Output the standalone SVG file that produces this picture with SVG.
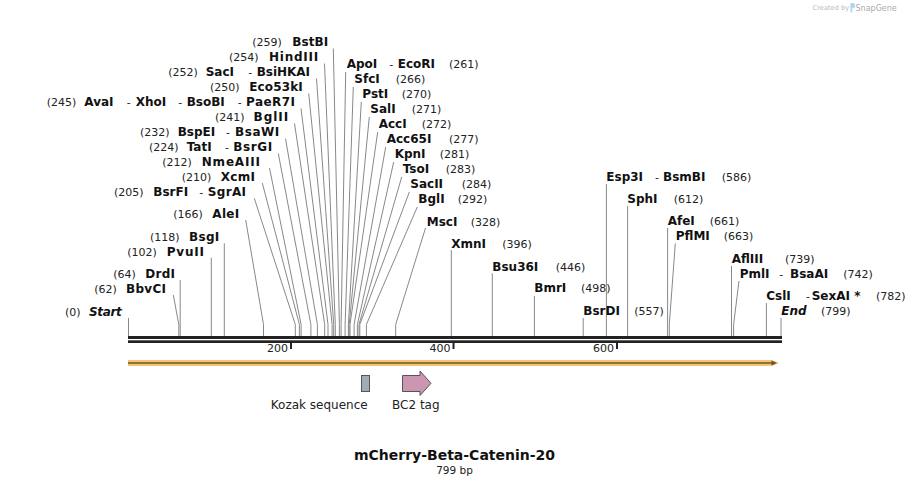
<svg xmlns="http://www.w3.org/2000/svg" width="910" height="486" viewBox="0 0 910 486">
<style>
text{font-family:"DejaVu Sans",Verdana,sans-serif;fill:#111}
.p{font-size:11px;fill:#222}
.n{font-size:12px;font-weight:bold}
.i{font-size:12px;font-weight:bold;font-style:italic}
.d{font-size:11px;fill:#222}
.l{stroke:#888;stroke-width:1;fill:none}
.tk{font-size:11px;fill:#222}
.f{font-size:12px;fill:#222}
</style>
<rect width="910" height="486" fill="#fff"/>
<g id="watermark">
<text x="812.5" y="10" style="font-size:6.7px;fill:#bbb">Created by</text>
<path d="M850.5,3 h2 a2.6,2.6 0 0 1 0,5.2 h-0.3 v4.3 h-1.7 z" fill="#a8d8f2"/>
<text x="855.5" y="10.5" style="font-size:8px;fill:#aaa">SnapGene</text>
</g>
<g id="connectors">
<polyline class="l" points="333.3,48.5 339.4,324.5 339.4,336"/>
<polyline class="l" points="324.5,63.5 335.3,324.5 335.3,336"/>
<polyline class="l" points="316.5,78.5 333.7,324.5 333.7,336"/>
<polyline class="l" points="308.7,93.5 332.1,324.5 332.1,336"/>
<polyline class="l" points="301,108.5 328,324.5 328,336"/>
<polyline class="l" points="294.5,123.5 324.7,324.5 324.7,336"/>
<polyline class="l" points="285.5,138.5 317.4,324.5 317.4,336"/>
<polyline class="l" points="278.3,153.5 310.9,324.5 310.9,336"/>
<polyline class="l" points="269.5,168 301.1,324.5 301.1,336"/>
<polyline class="l" points="262.3,183 299.4,324.5 299.4,336"/>
<polyline class="l" points="254.3,198.3 295.3,324.5 295.3,336"/>
<polyline class="l" points="245.7,220 263.5,324.5 263.5,336"/>
<polyline class="l" points="224.3,243.3 224.3,336"/>
<polyline class="l" points="211.3,257.7 211.3,336"/>
<polyline class="l" points="180.2,280 180.2,336"/>
<polyline class="l" points="173.3,295 178.8,324.5 178.8,336"/>
<polyline class="l" points="128.5,318 128.5,336"/>
<polyline class="l" points="345.7,72 341.1,324.5 341.1,336"/>
<polyline class="l" points="353.3,87 345.1,324.5 345.1,336"/>
<polyline class="l" points="361.3,102 348.4,324.5 348.4,336"/>
<polyline class="l" points="369.3,117 349.2,324.5 349.2,336"/>
<polyline class="l" points="377.7,132 350,324.5 350,336"/>
<polyline class="l" points="385.7,147 354.1,324.5 354.1,336"/>
<polyline class="l" points="393.7,162 357.4,324.5 357.4,336"/>
<polyline class="l" points="401.7,177 359,324.5 359,336"/>
<polyline class="l" points="409.3,192 359.8,324.5 359.8,336"/>
<polyline class="l" points="417.3,207 366.4,324.5 366.4,336"/>
<polyline class="l" points="425.5,228 395.7,324.5 395.7,336"/>
<polyline class="l" points="451.3,250 451.3,336"/>
<polyline class="l" points="492.3,273.3 492.3,336"/>
<polyline class="l" points="534.4,296 534.4,336"/>
<polyline class="l" points="583.2,318 583.2,336"/>
<polyline class="l" points="606.4,184 606.4,336"/>
<polyline class="l" points="627.6,206 627.6,336"/>
<polyline class="l" points="667.6,228 667.6,336"/>
<polyline class="l" points="675.3,243.5 669.3,324.5 669.3,336"/>
<polyline class="l" points="731.5,266 731.5,336"/>
<polyline class="l" points="739,281 733.6,324.5 733.6,336"/>
<polyline class="l" points="766.4,303 766.4,336"/>
<polyline class="l" points="781,318 781,336"/>
</g>
<g id="backbone">
<rect x="128" y="336" width="654" height="3" fill="#222"/>
<rect x="128" y="340.3" width="654" height="2.7" fill="#222"/>
<rect x="290" y="343" width="2" height="6" fill="#222"/>
<rect x="452.5" y="343" width="2" height="6" fill="#222"/>
<rect x="616" y="343" width="2" height="6" fill="#222"/>
<text class="tk" x="288" y="352" text-anchor="end">200</text>
<text class="tk" x="450.5" y="352" text-anchor="end">400</text>
<text class="tk" x="614" y="352" text-anchor="end">600</text>
</g>
<g id="orf">
<path d="M128,360 H772 L779,363 L772,366 H128 Z" fill="#f8c46e"/>
<line x1="128" y1="363" x2="773" y2="363" stroke="#6a5632" stroke-width="1.6"/>
<polygon points="771.5,360.6 777,363 771.5,365.4" fill="#6a5632"/>
</g>
<g id="kozak">
<rect x="361.5" y="375.5" width="8" height="16" fill="#a3acb6" stroke="#555" stroke-width="1"/>
<text class="f" x="319.2" y="409" text-anchor="middle">Kozak sequence</text>
</g>
<g id="bc2">
<polygon points="402.5,375.5 420,375.5 420,371 431,383.3 420,395.5 420,391.5 402.5,391.5" fill="#cc96b2" stroke="#555" stroke-width="1"/>
<text class="f" x="415.8" y="409" text-anchor="middle">BC2 tag</text>
</g>
<g id="title">
<text x="454.5" y="460" text-anchor="middle" style="font-size:14px;font-weight:bold">mCherry-Beta-Catenin-20</text>
<text x="454.5" y="473.5" text-anchor="middle" style="font-size:10.5px;fill:#222">799 bp</text>
</g>
<g id="BstBI"><text class="p" x="252.3" y="46">(259)</text><text class="n" x="292.3" y="46" textLength="36" lengthAdjust="spacing">BstBI</text></g>
<g id="HindIII"><text class="p" x="229" y="61">(254)</text><text class="n" x="269" y="61" textLength="49.3" lengthAdjust="spacing">HindIII</text></g>
<g id="SacI"><text class="p" x="168.3" y="76">(252)</text><text class="n" x="205.7" y="76">SacI</text><text class="d" x="248.3" y="76">-</text><text class="n" x="256.7" y="76" textLength="53.3" lengthAdjust="spacing">BsiHKAI</text></g>
<g id="Eco53kI"><text class="p" x="210" y="91">(250)</text><text class="n" x="249.3" y="91" textLength="53.4" lengthAdjust="spacing">Eco53kI</text></g>
<g id="AvaI"><text class="p" x="46.7" y="106">(245)</text><text class="n" x="84.3" y="106">AvaI</text><text class="d" x="126.7" y="106">-</text><text class="n" x="135.7" y="106">XhoI</text><text class="d" x="178.3" y="106">-</text><text class="n" x="186.7" y="106">BsoBI</text><text class="d" x="237.7" y="106">-</text><text class="n" x="246" y="106" textLength="49" lengthAdjust="spacing">PaeR7I</text></g>
<g id="BglII"><text class="p" x="215" y="121">(241)</text><text class="n" x="253.5" y="121" textLength="34.8" lengthAdjust="spacing">BglII</text></g>
<g id="BspEI"><text class="p" x="140" y="136">(232)</text><text class="n" x="177.7" y="136">BspEI</text><text class="d" x="226" y="136">-</text><text class="n" x="235" y="136" textLength="44.3" lengthAdjust="spacing">BsaWI</text></g>
<g id="TatI"><text class="p" x="149" y="151">(224)</text><text class="n" x="186.7" y="151">TatI</text><text class="d" x="225" y="151">-</text><text class="n" x="233.3" y="151" textLength="39" lengthAdjust="spacing">BsrGI</text></g>
<g id="NmeAIII"><text class="p" x="162.3" y="166">(212)</text><text class="n" x="201.7" y="166" textLength="58.3" lengthAdjust="spacing">NmeAIII</text></g>
<g id="XcmI"><text class="p" x="181.7" y="181">(210)</text><text class="n" x="220.7" y="181" textLength="34.3" lengthAdjust="spacing">XcmI</text></g>
<g id="BsrFI"><text class="p" x="114" y="196">(205)</text><text class="n" x="153.3" y="196">BsrFI</text><text class="d" x="199.3" y="196">-</text><text class="n" x="207.7" y="196" textLength="38.3" lengthAdjust="spacing">SgrAI</text></g>
<g id="AleI"><text class="p" x="173.3" y="218">(166)</text><text class="n" x="212.3" y="218" textLength="27" lengthAdjust="spacing">AleI</text></g>
<g id="BsgI"><text class="p" x="150" y="241">(118)</text><text class="n" x="189" y="241" textLength="30.3" lengthAdjust="spacing">BsgI</text></g>
<g id="PvuII"><text class="p" x="127.3" y="256">(102)</text><text class="n" x="166.7" y="256" textLength="37.3" lengthAdjust="spacing">PvuII</text></g>
<g id="DrdI"><text class="p" x="113.3" y="278">(64)</text><text class="n" x="145.3" y="278" textLength="29.7" lengthAdjust="spacing">DrdI</text></g>
<g id="BbvCI"><text class="p" x="94.3" y="293">(62)</text><text class="n" x="126" y="293" textLength="40" lengthAdjust="spacing">BbvCI</text></g>
<g id="Start"><text class="p" x="65" y="316">(0)</text><text class="i" x="89" y="316" textLength="32.7" lengthAdjust="spacing">Start</text></g>
<g id="ApoI"><text class="n" x="346.7" y="68">ApoI</text><text class="d" x="389.3" y="68">-</text><text class="n" x="397.7" y="68">EcoRI</text><text class="p" x="449" y="68">(261)</text></g>
<g id="SfcI"><text class="n" x="354.3" y="83">SfcI</text><text class="p" x="395.7" y="83">(266)</text></g>
<g id="PstI"><text class="n" x="362.3" y="98">PstI</text><text class="p" x="401.7" y="98">(270)</text></g>
<g id="SalI"><text class="n" x="370.3" y="113">SalI</text><text class="p" x="411.7" y="113">(271)</text></g>
<g id="AccI"><text class="n" x="378.7" y="128">AccI</text><text class="p" x="421.7" y="128">(272)</text></g>
<g id="Acc65I"><text class="n" x="386.7" y="143">Acc65I</text><text class="p" x="449" y="143">(277)</text></g>
<g id="KpnI"><text class="n" x="394.7" y="158">KpnI</text><text class="p" x="439.7" y="158">(281)</text></g>
<g id="TsoI"><text class="n" x="402.7" y="173">TsoI</text><text class="p" x="445.7" y="173">(283)</text></g>
<g id="SacII"><text class="n" x="410.3" y="188">SacII</text><text class="p" x="461.7" y="188">(284)</text></g>
<g id="BglI"><text class="n" x="418.3" y="203">BglI</text><text class="p" x="457.7" y="203">(292)</text></g>
<g id="MscI"><text class="n" x="426.7" y="225.5">MscI</text><text class="p" x="470.7" y="225.5">(328)</text></g>
<g id="XmnI"><text class="n" x="451.3" y="247.5">XmnI</text><text class="p" x="502.3" y="247.5">(396)</text></g>
<g id="Bsu36I"><text class="n" x="492.3" y="270.5">Bsu36I</text><text class="p" x="555.7" y="270.5">(446)</text></g>
<g id="BmrI"><text class="n" x="534.3" y="292">BmrI</text><text class="p" x="581" y="292">(498)</text></g>
<g id="BsrDI"><text class="n" x="583.3" y="315">BsrDI</text><text class="p" x="634.3" y="315">(557)</text></g>
<g id="Esp3I"><text class="n" x="606.3" y="181">Esp3I</text><text class="d" x="655" y="181">-</text><text class="n" x="663" y="181">BsmBI</text><text class="p" x="721.7" y="181">(586)</text></g>
<g id="SphI"><text class="n" x="627.3" y="202.5">SphI</text><text class="p" x="673.7" y="202.5">(612)</text></g>
<g id="AfeI"><text class="n" x="667.7" y="225">AfeI</text><text class="p" x="709.7" y="225">(661)</text></g>
<g id="PflMI"><text class="n" x="675.7" y="240">PflMI</text><text class="p" x="723.7" y="240">(663)</text></g>
<g id="AflIII"><text class="n" x="731.7" y="262.5">AflIII</text><text class="p" x="785" y="262.5">(739)</text></g>
<g id="PmlI"><text class="n" x="739.7" y="277.5">PmlI</text><text class="d" x="779.3" y="277.5">-</text><text class="n" x="790" y="277.5">BsaAI</text><text class="p" x="843.3" y="277.5">(742)</text></g>
<g id="CslI"><text class="n" x="766.3" y="300">CslI</text><text class="d" x="806" y="300">-</text><text class="n" x="811.7" y="300">SexAI *</text><text class="p" x="876" y="300">(782)</text></g>
<g id="End"><text class="i" x="781.3" y="315">End</text><text class="p" x="821" y="315">(799)</text></g>
</svg>
